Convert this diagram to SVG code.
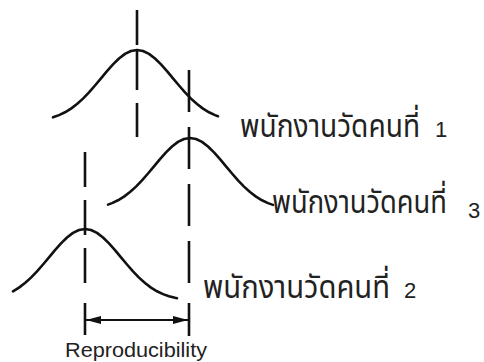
<svg xmlns="http://www.w3.org/2000/svg" width="484" height="362" viewBox="0 0 484 362">
<style>
.curve{fill:none;stroke:#111;stroke-width:2.6;stroke-linejoin:round;stroke-linecap:round}
.dash{fill:none;stroke:#111;stroke-width:2.6}
.tick{fill:none;stroke:#111;stroke-width:2.6}
.th{font-family:"Noto Sans Thai","Noto Serif Thai","Noto Sans","DejaVu Sans",sans-serif;font-size:32px;fill:#222}
.num{font-family:"Liberation Sans",Arial,sans-serif;font-size:22px;fill:#222}
.lbl{font-family:"Liberation Sans",Arial,sans-serif;font-size:21px;fill:#222}
</style>
<defs>
<marker id="ah" viewBox="0 0 15 8" refX="15" refY="4" markerWidth="15" markerHeight="8" markerUnits="userSpaceOnUse" orient="auto-start-reverse">
<path d="M0,0 L15,4 L0,8 Z" fill="#111"/>
</marker>
</defs>
<rect width="484" height="362" fill="#fff"/>
<g id="operator1">
<path class="curve" transform="translate(137,50)" d="M-84,67.3 L-78,65.1 L-72,62.3 L-66,58.6 L-60,54 L-54,48.6 L-48,42.4 L-42,35.5 L-36,28.3 L-30,21.1 L-24,14.4 L-18,8.5 L-12,3.9 L-6,1 L0,0 L6,1 L12,3.9 L18,8.5 L24,14.4 L30,21.1 L36,28.3 L42,35.5 L48,42.4 L54,48.6 L60,54 L66,58.6 L72,62.3 L78,65.1 L81,66.2"/>
<path class="dash" d="M137,10 V45 M137,51 V90 M137,103 V137"/>
<text y="137"><tspan class="th" x="240" textLength="180" lengthAdjust="spacingAndGlyphs">พนักงานวัดคนที่</tspan><tspan class="num" x="435">1</tspan></text>
</g>
<g id="operator3">
<path class="curve" transform="translate(190,138)" d="M-82,66.6 L-78,65.1 L-72,62.3 L-66,58.6 L-60,54 L-54,48.6 L-48,42.4 L-42,35.5 L-36,28.3 L-30,21.1 L-24,14.4 L-18,8.5 L-12,3.9 L-6,1 L0,0 L6,1 L12,3.9 L18,8.5 L24,14.4 L30,21.1 L36,28.3 L42,35.5 L48,42.4 L54,48.6 L60,54 L66,58.6 L72,62.3 L78,65.1 L83,66.9"/>
<path class="dash" d="M189,70 V283" stroke-dasharray="42 15"/>
<text y="213"><tspan class="th" x="272" textLength="175" lengthAdjust="spacingAndGlyphs">พนักงานวัดคนที่</tspan><tspan class="num" x="468" dy="5">3</tspan></text>
</g>
<g id="operator2">
<path class="curve" transform="translate(85,229)" d="M-72,62.3 L-66,58.6 L-60,54 L-54,48.6 L-48,42.4 L-42,35.5 L-36,28.3 L-30,21.1 L-24,14.4 L-18,8.5 L-12,3.9 L-6,1 L0,0 L6,1 L12,3.9 L18,8.5 L24,14.4 L30,21.1 L36,28.3 L42,35.5 L48,42.4 L54,48.6 L60,54 L66,58.6 L72,62.3 L78,65.1 L84,67.3 L90,68.8 L92,69.2"/>
<path class="dash" d="M85,152 V283" stroke-dasharray="35 13"/>
<text y="298"><tspan class="th" x="203" textLength="187" lengthAdjust="spacingAndGlyphs">พนักงานวัดคนที่</tspan><tspan class="num" x="404">2</tspan></text>
</g>
<g id="connectors">
<path class="tick" d="M85,303 V335 M189,303 V336"/>
<line x1="86" y1="320" x2="188" y2="320" stroke="#111" stroke-width="2" marker-start="url(#ah)" marker-end="url(#ah)"/>
</g>
<g id="reproducibility">
<text class="lbl" x="65" y="357" textLength="142" lengthAdjust="spacingAndGlyphs">Reproducibility</text>
</g>
</svg>
